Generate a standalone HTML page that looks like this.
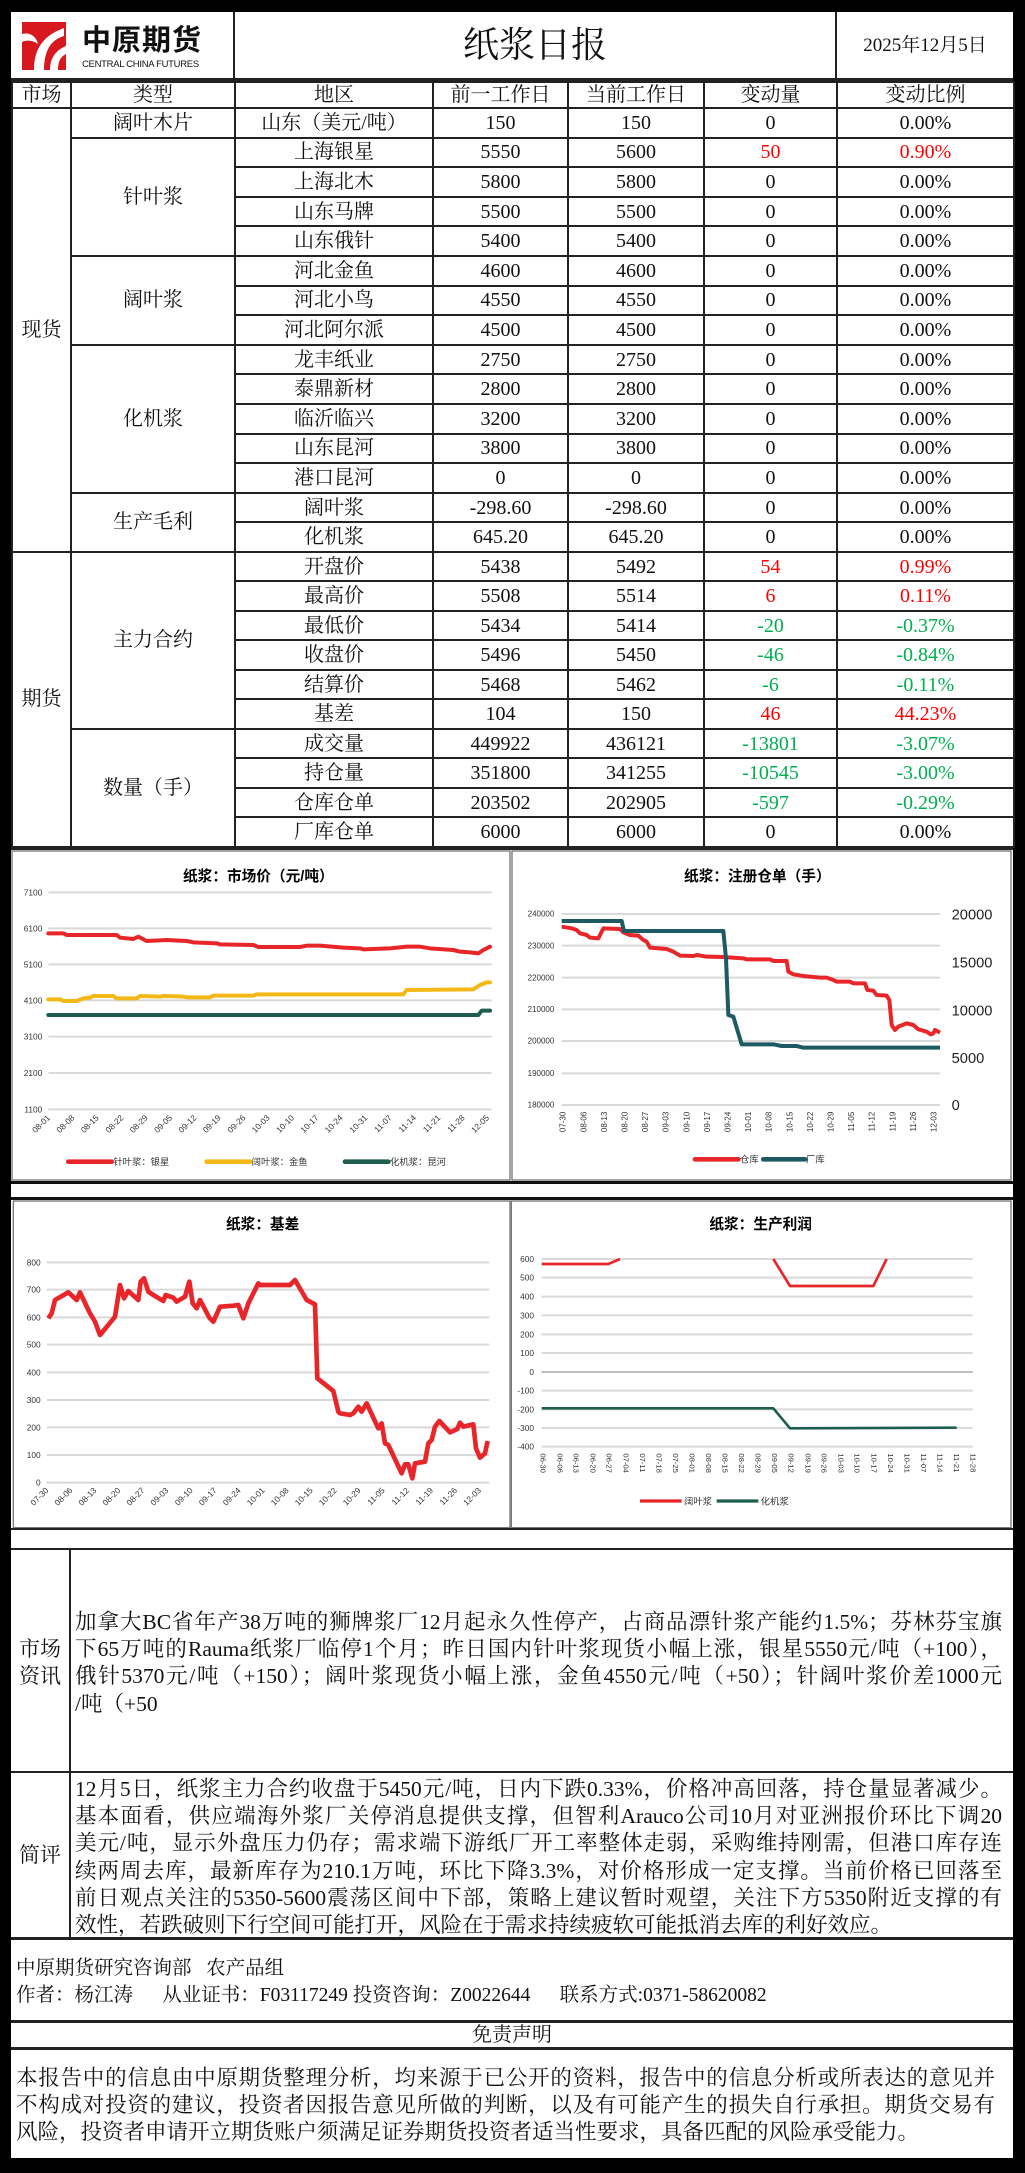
<!DOCTYPE html>
<html><head><meta charset="utf-8">
<style>
*{margin:0;padding:0;box-sizing:border-box}
body{width:1025px;height:2173px;background:#000;position:relative;overflow:hidden;font-family:"Liberation Serif","Noto Serif CJK SC",serif;color:#111}
.abs{position:absolute}
.wh{background:#fff}
table.t{position:absolute;left:11px;top:81px;width:1002px;border-collapse:collapse;table-layout:fixed;background:#fff;font-size:20px}
table.t td{border:2px solid #222;text-align:center;vertical-align:middle;padding:0;line-height:1;white-space:nowrap}
.r{color:#ff0000}.g{color:#00b050}
.para{position:absolute;font-size:21.5px;line-height:27.2px}
.para span{display:block;white-space:nowrap;text-align:justify;text-align-last:justify}
.para span.l{text-align:left;text-align-last:left}
svg text{font-family:"Liberation Sans","Noto Sans CJK SC",sans-serif}
</style></head><body>

<!-- header -->
<div class="abs wh" style="left:11px;top:12px;width:1002px;height:67px"></div>
<div class="abs" style="left:233px;top:12px;width:2px;height:67px;background:#222"></div>
<div class="abs" style="left:835px;top:12px;width:2px;height:67px;background:#222"></div>
<div class="abs" style="left:11px;top:78px;width:1002px;height:3px;background:#222"></div>
<!-- logo -->
<svg class="abs" style="left:20px;top:20px" width="48" height="52" viewBox="0 0 48 52">
<rect x="2" y="2" width="44" height="48" fill="#d7191f"/>
<path d="M14 50 C14 30 22 16 44 8 L44 16 C30 20 24 32 24 50 Z" fill="#fff"/>
<path d="M30 50 C30 38 36 30 46 26 L46 34 C40 37 38 42 38 50 Z" fill="#fff"/>
<path d="M2 14 C10 12 16 16 18 24 C12 20 6 20 2 22 Z" fill="#fff"/>
</svg>
<div class="abs" style="left:82px;top:22px;font-size:29px;font-weight:bold;font-family:'Noto Sans CJK SC',sans-serif;letter-spacing:1px;line-height:32px">中原期货</div>
<div class="abs" style="left:82px;top:59px;font-size:9.5px;font-family:'Liberation Sans',sans-serif;letter-spacing:-0.3px;line-height:12px">CENTRAL CHINA FUTURES</div>
<div class="abs" style="left:235px;top:12px;width:600px;height:67px;line-height:67px;text-align:center;font-size:36px">纸浆日报</div>
<div class="abs" style="left:837px;top:12px;width:176px;height:67px;line-height:67px;text-align:center;font-size:19px">2025年12月5日</div>

<table class="t">
<colgroup><col style="width:59px"><col style="width:164px"><col style="width:198px"><col style="width:135px"><col style="width:136px"><col style="width:133px"><col style="width:177px"></colgroup>
<tr style="height:26px"><td>市场</td><td>类型</td><td>地区</td><td>前一工作日</td><td>当前工作日</td><td>变动量</td><td>变动比例</td></tr>
<tr style="height:29.6px"><td rowspan="15">现货</td><td>阔叶木片</td><td>山东（美元/吨）</td><td>150</td><td>150</td><td>0</td><td>0.00%</td></tr>
<tr style="height:29.6px"><td rowspan="4">针叶浆</td><td>上海银星</td><td>5550</td><td>5600</td><td class="r">50</td><td class="r">0.90%</td></tr>
<tr style="height:29.6px"><td>上海北木</td><td>5800</td><td>5800</td><td>0</td><td>0.00%</td></tr>
<tr style="height:29.6px"><td>山东马牌</td><td>5500</td><td>5500</td><td>0</td><td>0.00%</td></tr>
<tr style="height:29.6px"><td>山东俄针</td><td>5400</td><td>5400</td><td>0</td><td>0.00%</td></tr>
<tr style="height:29.6px"><td rowspan="3">阔叶浆</td><td>河北金鱼</td><td>4600</td><td>4600</td><td>0</td><td>0.00%</td></tr>
<tr style="height:29.6px"><td>河北小鸟</td><td>4550</td><td>4550</td><td>0</td><td>0.00%</td></tr>
<tr style="height:29.6px"><td>河北阿尔派</td><td>4500</td><td>4500</td><td>0</td><td>0.00%</td></tr>
<tr style="height:29.6px"><td rowspan="5">化机浆</td><td>龙丰纸业</td><td>2750</td><td>2750</td><td>0</td><td>0.00%</td></tr>
<tr style="height:29.6px"><td>泰鼎新材</td><td>2800</td><td>2800</td><td>0</td><td>0.00%</td></tr>
<tr style="height:29.6px"><td>临沂临兴</td><td>3200</td><td>3200</td><td>0</td><td>0.00%</td></tr>
<tr style="height:29.6px"><td>山东昆河</td><td>3800</td><td>3800</td><td>0</td><td>0.00%</td></tr>
<tr style="height:29.6px"><td>港口昆河</td><td>0</td><td>0</td><td>0</td><td>0.00%</td></tr>
<tr style="height:29.6px"><td rowspan="2">生产毛利</td><td>阔叶浆</td><td>-298.60</td><td>-298.60</td><td>0</td><td>0.00%</td></tr>
<tr style="height:29.6px"><td>化机浆</td><td>645.20</td><td>645.20</td><td>0</td><td>0.00%</td></tr>
<tr style="height:29.5px"><td rowspan="10">期货</td><td rowspan="6">主力合约</td><td>开盘价</td><td>5438</td><td>5492</td><td class="r">54</td><td class="r">0.99%</td></tr>
<tr style="height:29.5px"><td>最高价</td><td>5508</td><td>5514</td><td class="r">6</td><td class="r">0.11%</td></tr>
<tr style="height:29.5px"><td>最低价</td><td>5434</td><td>5414</td><td class="g">-20</td><td class="g">-0.37%</td></tr>
<tr style="height:29.5px"><td>收盘价</td><td>5496</td><td>5450</td><td class="g">-46</td><td class="g">-0.84%</td></tr>
<tr style="height:29.5px"><td>结算价</td><td>5468</td><td>5462</td><td class="g">-6</td><td class="g">-0.11%</td></tr>
<tr style="height:29.5px"><td>基差</td><td>104</td><td>150</td><td class="r">46</td><td class="r">44.23%</td></tr>
<tr style="height:29.5px"><td rowspan="4">数量（手）</td><td>成交量</td><td>449922</td><td>436121</td><td class="g">-13801</td><td class="g">-3.07%</td></tr>
<tr style="height:29.5px"><td>持仓量</td><td>351800</td><td>341255</td><td class="g">-10545</td><td class="g">-3.00%</td></tr>
<tr style="height:29.5px"><td>仓库仓单</td><td>203502</td><td>202905</td><td class="g">-597</td><td class="g">-0.29%</td></tr>
<tr style="height:29.5px"><td>厂库仓单</td><td>6000</td><td>6000</td><td>0</td><td>0.00%</td></tr>
</table>

<!-- chart area backgrounds -->
<div class="abs wh" style="left:11px;top:850px;width:1002px;height:331px"></div>
<div class="abs wh" style="left:11px;top:1184px;width:1002px;height:13px"></div>
<div class="abs wh" style="left:11px;top:1200px;width:1002px;height:328px"></div>
<div class="abs" style="left:11px;top:847px;width:1002px;height:3px;background:#222"></div>
<div class="abs" style="left:11px;top:1181px;width:1002px;height:3px;background:#111"></div>
<div class="abs" style="left:11px;top:1197px;width:1002px;height:3px;background:#111"></div>

<!-- Chart 1 -->
<svg class="abs" style="left:0;top:845px" width="512" height="345" viewBox="0 0 1536 1035">
<rect x="36" y="18" width="1494" height="987" fill="#fff" stroke="#777" stroke-width="4"/>
<text x="775" y="108" font-size="44" font-weight="bold" text-anchor="middle">纸浆：市场价（元/吨）</text>
<g stroke="#d9d9d9" stroke-width="6">
<line x1="145" y1="142" x2="1475" y2="142"/><line x1="145" y1="250" x2="1475" y2="250"/><line x1="145" y1="358" x2="1475" y2="358"/><line x1="145" y1="466" x2="1475" y2="466"/><line x1="145" y1="575" x2="1475" y2="575"/><line x1="145" y1="684" x2="1475" y2="684"/><line x1="145" y1="793" x2="1475" y2="793"/>
</g>
<g font-size="25" text-anchor="end" fill="#333">
<text x="127" y="151">7100</text><text x="127" y="259">6100</text><text x="127" y="367">5100</text><text x="127" y="475">4100</text><text x="127" y="584">3100</text><text x="127" y="693">2100</text><text x="127" y="802">1100</text>
</g>
<g font-size="25" text-anchor="end" fill="#333">
<text transform="translate(152,820) rotate(-45)">08-01</text><text transform="translate(225,820) rotate(-45)">08-08</text><text transform="translate(298,820) rotate(-45)">08-15</text><text transform="translate(372,820) rotate(-45)">08-22</text><text transform="translate(445,820) rotate(-45)">08-29</text><text transform="translate(518,820) rotate(-45)">09-05</text><text transform="translate(591,820) rotate(-45)">09-12</text><text transform="translate(664,820) rotate(-45)">09-19</text><text transform="translate(738,820) rotate(-45)">09-26</text><text transform="translate(811,820) rotate(-45)">10-03</text><text transform="translate(884,820) rotate(-45)">10-10</text><text transform="translate(957,820) rotate(-45)">10-17</text><text transform="translate(1030,820) rotate(-45)">10-24</text><text transform="translate(1104,820) rotate(-45)">10-31</text><text transform="translate(1177,820) rotate(-45)">11-07</text><text transform="translate(1250,820) rotate(-45)">11-14</text><text transform="translate(1323,820) rotate(-45)">11-21</text><text transform="translate(1396,820) rotate(-45)">11-28</text><text transform="translate(1469,820) rotate(-45)">12-05</text>
</g>
<g fill="none" stroke-width="12" stroke-linejoin="round" stroke-linecap="round">
<polyline stroke="#e8262a" points="145,265 190,265 200,270 350,270 360,278 400,282 415,275 440,288 500,285 560,288 580,292 650,295 660,298 760,300 775,306 900,306 920,302 960,302 1030,308 1080,310 1090,313 1170,310 1220,305 1260,305 1290,310 1360,315 1380,320 1410,322 1435,325 1450,315 1470,305"/>
<polyline stroke="#f4b718" points="145,463 180,463 190,468 230,468 250,460 270,458 280,453 340,453 350,460 410,460 420,453 480,455 490,453 550,455 560,457 630,457 640,452 760,452 770,448 1210,448 1220,435 1420,433 1440,420 1460,412 1470,412"/>
<polyline stroke="#1f5e4f" points="145,510 1435,510 1445,497 1470,497"/>
</g>
<line x1="205" y1="950" x2="335" y2="950" stroke="#e8262a" stroke-width="14" stroke-linecap="round"/>
<line x1="620" y1="950" x2="750" y2="950" stroke="#f4b718" stroke-width="14" stroke-linecap="round"/>
<line x1="1035" y1="950" x2="1165" y2="950" stroke="#1f5e4f" stroke-width="14" stroke-linecap="round"/>
<g font-size="28" fill="#333"><text x="340" y="960">针叶浆：银星</text><text x="755" y="960">阔叶浆：金鱼</text><text x="1170" y="960">化机浆：昆河</text></g>
</svg>

<!-- Chart 2 -->
<svg class="abs" style="left:510px;top:845px" width="515" height="345" viewBox="0 0 1545 1035">
<rect x="6" y="18" width="1497" height="987" fill="#fff" stroke="#777" stroke-width="4"/>
<text x="742" y="108" font-size="44" font-weight="bold" text-anchor="middle">纸浆：注册仓单（手）</text>
<g stroke="#d9d9d9" stroke-width="6">
<line x1="155" y1="207" x2="1290" y2="207"/><line x1="155" y1="302" x2="1290" y2="302"/><line x1="155" y1="398" x2="1290" y2="398"/><line x1="155" y1="493" x2="1290" y2="493"/><line x1="155" y1="588" x2="1290" y2="588"/><line x1="155" y1="685" x2="1290" y2="685"/><line x1="155" y1="780" x2="1290" y2="780"/>
</g>
<g font-size="24" text-anchor="end" fill="#333">
<text x="133" y="215">240000</text><text x="133" y="310">230000</text><text x="133" y="406">220000</text><text x="133" y="501">210000</text><text x="133" y="596">200000</text><text x="133" y="693">190000</text><text x="133" y="788">180000</text>
</g>
<g font-size="44" fill="#222">
<text x="1325" y="224">20000</text><text x="1325" y="368">15000</text><text x="1325" y="511">10000</text><text x="1325" y="654">5000</text><text x="1325" y="795">0</text>
</g>
<g font-size="24" text-anchor="end" fill="#333">
<text transform="translate(167,800) rotate(-90)">07-30</text><text transform="translate(229,800) rotate(-90)">08-06</text><text transform="translate(291,800) rotate(-90)">08-13</text><text transform="translate(352,800) rotate(-90)">08-20</text><text transform="translate(414,800) rotate(-90)">08-27</text><text transform="translate(476,800) rotate(-90)">09-03</text><text transform="translate(538,800) rotate(-90)">09-10</text><text transform="translate(600,800) rotate(-90)">09-17</text><text transform="translate(661,800) rotate(-90)">09-24</text><text transform="translate(723,800) rotate(-90)">10-01</text><text transform="translate(785,800) rotate(-90)">10-08</text><text transform="translate(847,800) rotate(-90)">10-15</text><text transform="translate(909,800) rotate(-90)">10-22</text><text transform="translate(970,800) rotate(-90)">10-29</text><text transform="translate(1032,800) rotate(-90)">11-05</text><text transform="translate(1094,800) rotate(-90)">11-12</text><text transform="translate(1156,800) rotate(-90)">11-19</text><text transform="translate(1218,800) rotate(-90)">11-26</text><text transform="translate(1279,800) rotate(-90)">12-03</text>
</g>
<g fill="none" stroke-width="12" stroke-linejoin="round">
<polyline stroke="#e8262a" points="155,245 185,250 200,255 210,265 230,270 240,278 265,280 280,250 330,252 340,262 360,270 385,272 400,285 410,290 420,308 470,312 490,320 510,332 550,333 560,330 590,335 640,336 700,340 710,343 780,343 790,348 830,348 835,380 850,388 880,393 910,396 930,398 950,398 970,405 980,410 1020,410 1030,415 1065,415 1072,435 1090,437 1100,450 1130,452 1138,465 1145,540 1155,555 1165,545 1190,535 1210,540 1225,553 1250,560 1262,568 1270,565 1275,555 1290,563"/>
<polyline stroke="#1d5a64" points="155,228 335,228 342,258 640,258 648,340 655,510 670,515 695,598 790,598 815,603 860,603 880,608 1290,608"/>
</g>
<line x1="555" y1="943" x2="685" y2="943" stroke="#e8262a" stroke-width="14" stroke-linecap="round"/>
<line x1="760" y1="943" x2="885" y2="943" stroke="#1d5a64" stroke-width="14" stroke-linecap="round"/>
<g font-size="28" fill="#333"><text x="690" y="953">仓库</text><text x="888" y="953">厂库</text></g>
</svg>

<!-- Chart 3 -->
<svg class="abs" style="left:0;top:1185px" width="512" height="345" viewBox="0 0 1536 1035">
<rect x="40" y="48" width="1490" height="980" fill="#fff" stroke="#777" stroke-width="4"/>
<text x="788" y="132" font-size="44" font-weight="bold" text-anchor="middle">纸浆：基差</text>
<g stroke="#d9d9d9" stroke-width="6">
<line x1="140" y1="232" x2="1468" y2="232"/><line x1="140" y1="314" x2="1468" y2="314"/><line x1="140" y1="397" x2="1468" y2="397"/><line x1="140" y1="479" x2="1468" y2="479"/><line x1="140" y1="562" x2="1468" y2="562"/><line x1="140" y1="645" x2="1468" y2="645"/><line x1="140" y1="727" x2="1468" y2="727"/><line x1="140" y1="810" x2="1468" y2="810"/><line x1="140" y1="893" x2="1468" y2="893"/>
</g>
<g font-size="25" text-anchor="end" fill="#333">
<text x="122" y="241">800</text><text x="122" y="323">700</text><text x="122" y="406">600</text><text x="122" y="488">500</text><text x="122" y="571">400</text><text x="122" y="654">300</text><text x="122" y="736">200</text><text x="122" y="819">100</text><text x="122" y="902">0</text>
</g>
<g font-size="25" text-anchor="end" fill="#333">
<text transform="translate(147,918) rotate(-45)">07-30</text><text transform="translate(219,918) rotate(-45)">08-06</text><text transform="translate(291,918) rotate(-45)">08-13</text><text transform="translate(363,918) rotate(-45)">08-20</text><text transform="translate(435,918) rotate(-45)">08-27</text><text transform="translate(507,918) rotate(-45)">09-03</text><text transform="translate(580,918) rotate(-45)">09-10</text><text transform="translate(652,918) rotate(-45)">09-17</text><text transform="translate(724,918) rotate(-45)">09-24</text><text transform="translate(796,918) rotate(-45)">10-01</text><text transform="translate(868,918) rotate(-45)">10-08</text><text transform="translate(940,918) rotate(-45)">10-15</text><text transform="translate(1012,918) rotate(-45)">10-22</text><text transform="translate(1084,918) rotate(-45)">10-29</text><text transform="translate(1156,918) rotate(-45)">11-05</text><text transform="translate(1229,918) rotate(-45)">11-12</text><text transform="translate(1301,918) rotate(-45)">11-19</text><text transform="translate(1373,918) rotate(-45)">11-26</text><text transform="translate(1445,918) rotate(-45)">12-03</text>
</g>
<polyline fill="none" stroke="#e8262a" stroke-width="14" stroke-linejoin="round" points="145,400 155,385 165,345 205,322 230,345 240,322 270,385 285,410 300,450 345,395 360,300 372,340 385,318 415,345 422,290 432,280 445,320 460,330 490,348 497,330 520,338 530,350 555,335 568,290 578,355 590,370 600,345 628,398 640,410 660,365 700,362 715,360 730,400 745,355 775,295 780,300 870,300 885,285 920,345 945,358 952,580 1000,618 1015,680 1020,685 1050,690 1060,685 1075,665 1085,680 1100,655 1135,730 1145,715 1155,775 1165,780 1205,865 1215,838 1225,838 1237,880 1245,835 1275,830 1285,775 1295,765 1305,725 1318,708 1350,742 1372,732 1380,713 1390,725 1420,718 1428,790 1440,818 1455,805 1463,768"/>
</svg>

<!-- Chart 4 -->
<svg class="abs" style="left:510px;top:1185px" width="515" height="345" viewBox="0 0 1545 1035">
<rect x="4" y="48" width="1499" height="980" fill="#fff" stroke="#777" stroke-width="4"/>
<text x="752" y="132" font-size="44" font-weight="bold" text-anchor="middle">纸浆：生产利润</text>
<g stroke="#d9d9d9" stroke-width="6">
<line x1="95" y1="222" x2="1388" y2="222"/><line x1="95" y1="278" x2="1388" y2="278"/><line x1="95" y1="335" x2="1388" y2="335"/><line x1="95" y1="391" x2="1388" y2="391"/><line x1="95" y1="448" x2="1388" y2="448"/><line x1="95" y1="504" x2="1388" y2="504"/><line x1="95" y1="617" x2="1388" y2="617"/><line x1="95" y1="673" x2="1388" y2="673"/><line x1="95" y1="729" x2="1388" y2="729"/><line x1="95" y1="785" x2="1388" y2="785"/>
</g>
<line x1="95" y1="561" x2="1388" y2="561" stroke="#bdbdbd" stroke-width="6"/>
<g font-size="25" text-anchor="end" fill="#333">
<text x="72" y="231">600</text><text x="72" y="287">500</text><text x="72" y="344">400</text><text x="72" y="400">300</text><text x="72" y="457">200</text><text x="72" y="513">100</text><text x="72" y="570">0</text><text x="72" y="626">-100</text><text x="72" y="682">-200</text><text x="72" y="738">-300</text><text x="72" y="794">-400</text>
</g>
<g font-size="23" fill="#333">
<text transform="translate(92,805) rotate(90)">06-30</text><text transform="translate(142,805) rotate(90)">06-06</text><text transform="translate(191,805) rotate(90)">06-13</text><text transform="translate(241,805) rotate(90)">06-20</text><text transform="translate(290,805) rotate(90)">06-27</text><text transform="translate(340,805) rotate(90)">07-04</text><text transform="translate(390,805) rotate(90)">07-11</text><text transform="translate(439,805) rotate(90)">07-18</text><text transform="translate(489,805) rotate(90)">07-25</text><text transform="translate(538,805) rotate(90)">08-01</text><text transform="translate(588,805) rotate(90)">08-08</text><text transform="translate(638,805) rotate(90)">08-15</text><text transform="translate(687,805) rotate(90)">08-22</text><text transform="translate(737,805) rotate(90)">08-29</text><text transform="translate(786,805) rotate(90)">09-05</text><text transform="translate(836,805) rotate(90)">09-12</text><text transform="translate(886,805) rotate(90)">09-19</text><text transform="translate(935,805) rotate(90)">09-26</text><text transform="translate(985,805) rotate(90)">10-03</text><text transform="translate(1034,805) rotate(90)">10-10</text><text transform="translate(1084,805) rotate(90)">10-17</text><text transform="translate(1134,805) rotate(90)">10-24</text><text transform="translate(1183,805) rotate(90)">10-31</text><text transform="translate(1233,805) rotate(90)">11-07</text><text transform="translate(1282,805) rotate(90)">11-14</text><text transform="translate(1332,805) rotate(90)">11-21</text><text transform="translate(1382,805) rotate(90)">11-28</text>
</g>
<g fill="none" stroke-width="8" stroke-linejoin="round">
<polyline stroke="#e8262a" points="95,237 295,237 330,222"/>
<polyline stroke="#e8262a" points="790,222 840,303 1090,303 1130,222"/>
<polyline stroke="#1f5e4f" points="95,670 790,670 840,730 1340,728"/>
</g>
<line x1="390" y1="948" x2="515" y2="948" stroke="#e8262a" stroke-width="10"/>
<line x1="620" y1="948" x2="745" y2="948" stroke="#1f5e4f" stroke-width="10"/>
<g font-size="28" fill="#333"><text x="522" y="958">阔叶浆</text><text x="752" y="958">化机浆</text></g>
</svg>

<!-- text sections -->
<div class="abs wh" style="left:11px;top:1528px;width:1002px;height:630px"></div>
<div class="abs" style="left:11px;top:1528px;width:1002px;height:2px;background:#222"></div>
<div class="abs" style="left:11px;top:1548px;width:1002px;height:2px;background:#222"></div>
<div class="abs" style="left:11px;top:1771px;width:1002px;height:2px;background:#222"></div>
<div class="abs" style="left:69px;top:1549px;width:2px;height:389px;background:#222"></div>
<div class="abs" style="left:11px;top:1937px;width:1002px;height:3px;background:#222"></div>
<div class="abs" style="left:11px;top:2020px;width:1002px;height:3px;background:#222"></div>
<div class="abs" style="left:11px;top:2047px;width:1002px;height:3px;background:#222"></div>

<div class="abs" style="left:11px;top:1636px;width:58px;font-size:21px;line-height:27px;text-align:center">市场<br>资讯</div>
<div class="abs" style="left:11px;top:1842px;width:58px;font-size:21px;line-height:27px;text-align:center">简评</div>

<div class="para" style="left:75px;top:1609px;width:927px">
<span>加拿大BC省年产38万吨的狮牌浆厂12月起永久性停产，占商品漂针浆产能约1.5%；芬林芬宝旗</span>
<span>下65万吨的Rauma纸浆厂临停1个月；昨日国内针叶浆现货小幅上涨，银星5550元/吨（+100），</span>
<span>俄针5370元/吨（+150）；阔叶浆现货小幅上涨，金鱼4550元/吨（+50）；针阔叶浆价差1000元</span>
<span class="l">/吨（+50</span>
</div>

<div class="para" style="left:75px;top:1776px;width:927px">
<span>12月5日，纸浆主力合约收盘于5450元/吨，日内下跌0.33%，价格冲高回落，持仓量显著减少。</span>
<span>基本面看，供应端海外浆厂关停消息提供支撑，但智利Arauco公司10月对亚洲报价环比下调20</span>
<span>美元/吨，显示外盘压力仍存；需求端下游纸厂开工率整体走弱，采购维持刚需，但港口库存连</span>
<span>续两周去库，最新库存为210.1万吨，环比下降3.3%，对价格形成一定支撑。当前价格已回落至</span>
<span>前日观点关注的5350-5600震荡区间中下部，策略上建议暂时观望，关注下方5350附近支撑的有</span>
<span class="l">效性，若跌破则下行空间可能打开，风险在于需求持续疲软可能抵消去库的利好效应。</span>
</div>

<div class="abs" style="left:16px;top:1955px;font-size:19.5px;line-height:27px;white-space:nowrap">中原期货研究咨询部&nbsp;&nbsp;&nbsp;农产品组<br>作者：杨江涛&nbsp;&nbsp;&nbsp;&nbsp;&nbsp;&nbsp;从业证书：F03117249 投资咨询：Z0022644&nbsp;&nbsp;&nbsp;&nbsp;&nbsp;&nbsp;联系方式:0371-58620082</div>

<div class="abs" style="left:11px;top:2023px;width:1002px;height:24px;line-height:24px;text-align:center;font-size:20px">免责声明</div>

<div class="para" style="left:16px;top:2065px;width:979px">
<span>本报告中的信息由中原期货整理分析，均来源于已公开的资料，报告中的信息分析或所表达的意见并</span>
<span>不构成对投资的建议，投资者因报告意见所做的判断，以及有可能产生的损失自行承担。期货交易有</span>
<span class="l">风险，投资者申请开立期货账户须满足证券期货投资者适当性要求，具备匹配的风险承受能力。</span>
</div>

</body></html>
